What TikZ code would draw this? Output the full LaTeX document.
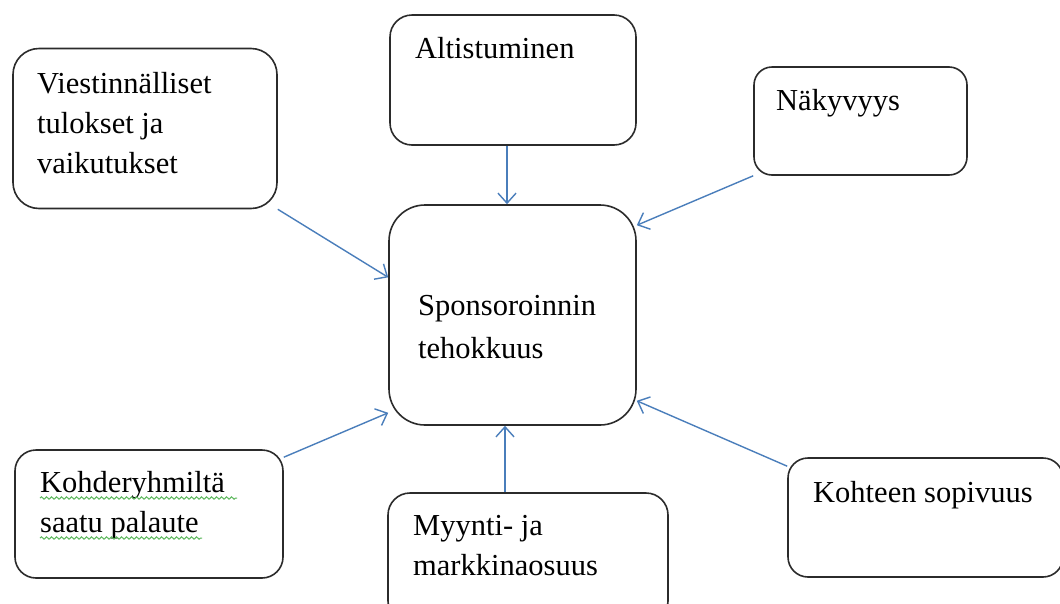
\documentclass[tikz,border=0pt]{standalone}
\usepackage{fontspec}
\setmainfont{Liberation Serif}
\usetikzlibrary{arrows.meta,calc,decorations.pathmorphing}
\definecolor{arrowblue}{HTML}{4A7EBB}
\definecolor{boxline}{HTML}{2B2B2B}
\definecolor{spellgreen}{HTML}{5CB85C}
\begin{document}
\begin{tikzpicture}[x=1pt,y=-1pt,
  boxnode/.style={draw=boxline, line width=1.6pt, rectangle, inner sep=0pt, fill=white},
  lbl/.style={anchor=base west, inner sep=0pt, font=\fontsize{30.5}{40}\selectfont},
  conn/.style={draw=arrowblue, line width=1.4pt, -{Straight Barb[length=10pt,width=18pt,line width=1.4pt]}},
  wavy/.style={draw=spellgreen, line width=1pt, decorate, decoration={snake, amplitude=1.2pt, segment length=5pt}}]
\useasboundingbox (0,0) rectangle (1060,603);
\clip (0,0) rectangle (1060,603);
\fill[white] (0,0) rectangle (1060,603);

% boxes
\node[boxnode, rounded corners=26pt, minimum width=264pt, minimum height=160pt] (vb) at (145,128.5) {};
\node[boxnode, rounded corners=22pt, minimum width=246pt, minimum height=130pt] (ab) at (513,80) {};
\node[boxnode, rounded corners=18pt, minimum width=213pt, minimum height=108pt] (nb) at (860.5,121) {};
\node[boxnode, rounded corners=36pt, minimum width=247pt, minimum height=220pt] (cb) at (512.5,315) {};
\node[boxnode, rounded corners=21pt, minimum width=268pt, minimum height=128pt] (kb) at (149,514) {};
\node[boxnode, rounded corners=22pt, minimum width=280pt, minimum height=130pt] (mb) at (528,558) {};
\node[boxnode, rounded corners=20pt, minimum width=275pt, minimum height=119pt] (kob) at (925.5,517.5) {};

% texts
\node[lbl] (vt) at (37,93) {\begin{tabular}[t]{@{}l@{}}Viestinnälliset\\tulokset ja\\vaikutukset\end{tabular}};
\node[lbl] (at) at (415,58) {Altistuminen};
\node[lbl] (nt) at (776,110) {Näkyvyys};
\node[lbl] (ct) at (418,315) {\begin{tabular}[t]{@{}l@{}}Sponsoroinnin\\[3pt]tehokkuus\end{tabular}};
\node[lbl] (kt) at (40,492) {\begin{tabular}[t]{@{}l@{}}Kohderyhmiltä\\saatu palaute\end{tabular}};
\node[lbl] (mt) at (413,535) {\begin{tabular}[t]{@{}l@{}}Myynti- ja\\markkinaosuus\end{tabular}};
\node[lbl] (kot) at (813,502) {Kohteen sopivuus};

% spell-check underlines
\draw[wavy] (40,498) -- (237,498);
\draw[wavy] (40,538) -- (202,538);

% connectors
\draw[conn] (vb.south east) -- ($(cb.north west)!0.33!(cb.south west)$);
\draw[conn] ($(ab.south)+(-6,0)$) coordinate (atop) -- (atop |- cb.north);
\draw[conn] (nb.south west) -- ($(cb.north east)!0.095!(cb.south east)$);
\draw[conn] ($(kb.north east)+(0,8)$) -- ($(cb.south west)+(0,-13)$);
\draw[conn] ($(mb.north)+(-23,0)$) coordinate (mtop) -- (mtop |- cb.south);
\draw[conn] ($(kob.north west)+(0,9)$) -- ($(cb.south east)+(0,-25)$);
\end{tikzpicture}
\end{document}
